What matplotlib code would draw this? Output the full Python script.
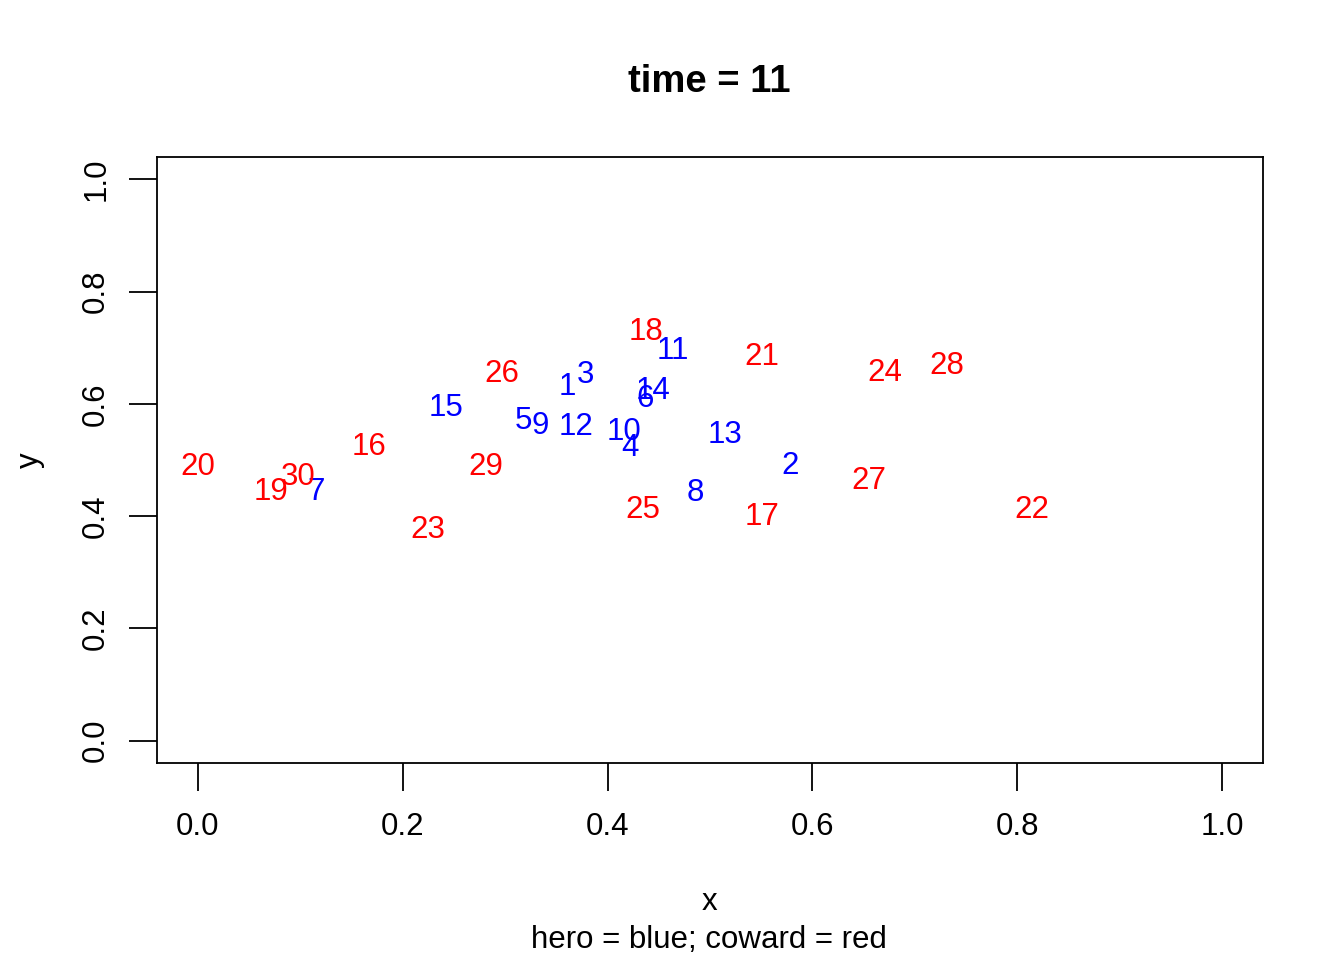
import matplotlib
matplotlib.use("Agg")
import matplotlib.pyplot as plt

plt.rcParams['font.family'] = ['Liberation Sans', 'DejaVu Sans']

labels = list(range(1, 31))
xs = [0.361, 0.578, 0.378, 0.422, 0.318, 0.437, 0.115, 0.486, 0.334, 0.416,
      0.464, 0.369, 0.515, 0.444, 0.242,
      0.167, 0.551, 0.4375, 0.071, 0.0, 0.551, 0.814, 0.224, 0.671, 0.434,
      0.297, 0.655, 0.731, 0.281, 0.098]
ys = [0.630, 0.490, 0.652, 0.522, 0.570, 0.609, 0.443, 0.442, 0.561, 0.550,
      0.694, 0.559, 0.545, 0.623, 0.593,
      0.523, 0.399, 0.728, 0.443, 0.488, 0.684, 0.410, 0.376, 0.655, 0.410,
      0.653, 0.463, 0.668, 0.488, 0.470]
types = ['hero'] * 15 + ['coward'] * 15
colors = {'hero': 'blue', 'coward': 'red'}
ticks = [0.0, 0.2, 0.4, 0.6, 0.8, 1.0]

fig = plt.figure(figsize=(13.44, 9.6), dpi=100)
ax = fig.add_axes([157/1344, 1-763/960, (1263-157)/1344, (763-157)/960])
ax.set_xlim(-0.04, 1.04)
ax.set_ylim(-0.04, 1.04)

for lab, x, y, t in zip(labels, xs, ys, types):
    ax.text(x, y, str(lab), color=colors[t], fontsize=22.5, ha='center', va='center')

ax.set_xticks(ticks)
ax.set_yticks(ticks)
ax.set_xticklabels([f"{t:.1f}" for t in ticks], fontsize=22.5)
ax.set_yticklabels([f"{t:.1f}" for t in ticks], fontsize=22.5, rotation=90, va='center')
ax.tick_params(axis='x', length=20, width=1.3, pad=15)
ax.tick_params(axis='y', length=20, width=1.3, pad=13)
for s in ax.spines.values():
    s.set_linewidth(1.3)

fig.text(709/1344, 1-82/960, "time = 11", fontsize=27.5, fontweight='bold', ha='center', va='center')
fig.text(709/1344, 1-902/960, "x", fontsize=22.5, ha='center', va='center')
fig.text(709/1344, 1-940/960, "hero = blue; coward = red", fontsize=22.5, ha='center', va='center')
fig.text(30/1344, 1-460/960, "y", fontsize=22.5, ha='center', va='center', rotation=90)

fig.savefig("out.png", dpi=100)
